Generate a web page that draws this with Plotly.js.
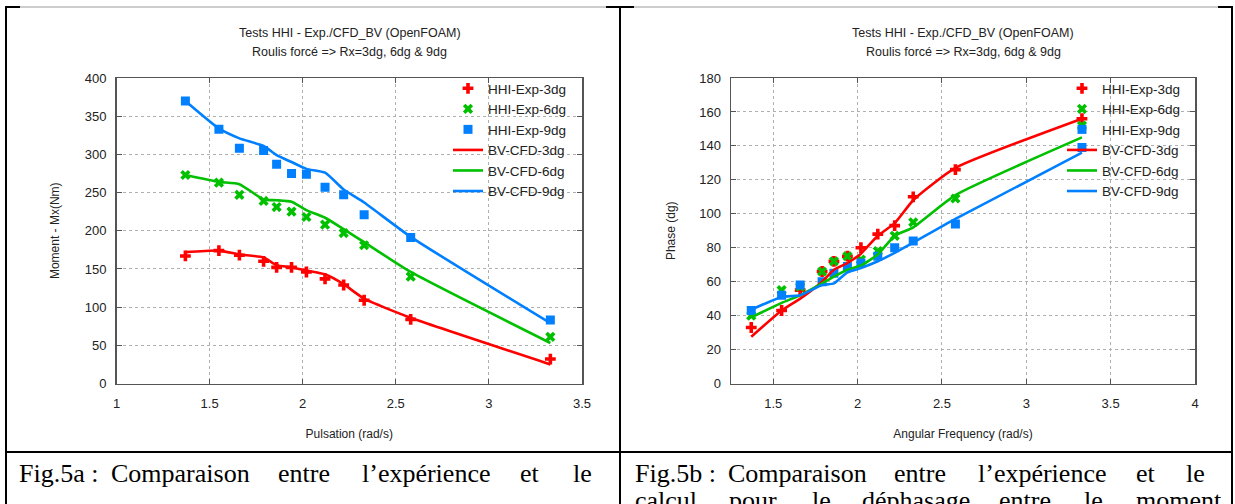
<!DOCTYPE html>
<html>
<head>
<meta charset="utf-8">
<script src="https://cdn.plot.ly/plotly-3.0.1.min.js"></script>
<style>html,body{margin:0;padding:0;background:#fff;}#chart{width:1235px;height:504px;}</style>
</head>
<body>
<div id="chart"></div>
<script>
// ---- data ----
const omega = [1.37, 1.55, 1.66, 1.79, 1.86, 1.94, 2.02, 2.12, 2.22, 2.33, 2.58, 3.33];

// Fig.5a : moment Mx (Nm)
const momExp3dg = [167, 174, 168, 160, 152, 152, 146, 137, 129, 109, 84, 32];
const momExp6dg = [273, 263, 247, 239, 231, 225, 218, 208, 197, 181, 140, 61];
const momExp9dg = [370, 333, 308, 305, 287, 275, 274, 257, 247, 221, 191, 83];
const momCfd3dg = [172, 174, 169, 165, 155, 152, 148, 143, 130, 111, 86, 25];
const momCfd6dg = [273, 264, 261, 241, 240, 238, 227, 217, 202, 185, 146, 53];
const momCfd9dg = [370, 334, 321, 311, 299, 290, 281, 276, 254, 237, 192, 79];

// Fig.5b : phase (dg)
const phExp3dg = [33, 43, 55, 66, 72, 75, 80, 88, 93, 110, 126, 156];
const phExp6dg = [40, 55, 57, 66, 72, 75, 73, 78, 87, 95, 109, 152];
const phExp9dg = [43, 52, 58, 60, 65, 69, 71, 75, 80, 84, 94, 139];
const phCfd3dg = [27.5, 43, 50, 60, 67, 71, 76.5, 87, 94.5, 108, 127, 156];
const phCfd6dg = [39, 47.5, 52, 59, 63, 67, 69.5, 76, 87, 92, 111, 145];
const phCfd9dg = [43.5, 51, 52, 58, 59, 65.5, 68, 72, 77, 83, 97, 136];

const names = ['HHI-Exp-3dg', 'HHI-Exp-6dg', 'HHI-Exp-9dg', 'BV-CFD-3dg', 'BV-CFD-6dg', 'BV-CFD-9dg'];
const titleLine1 = 'Tests HHI - Exp./CFD_BV (OpenFOAM)';
const titleLine2 = 'Roulis forcé => Rx=3dg, 6dg & 9dg';
const captionA = ['Fig.5a :', 'Comparaison', 'entre', 'l’expérience', 'et', 'le'];
const captionB1 = ['Fig.5b :', 'Comparaison', 'entre', 'l’expérience', 'et', 'le'];
const captionB2 = ['calcul', 'pour', 'le', 'déphasage', 'entre', 'le', 'moment'];

// ---- styling ----
const W = 1235, H = 504;
const RED = '#ff0000', GREEN = '#00c000', BLUE = '#0080ff';
const FONT = 'Liberation Sans, Arial, sans-serif';
const SERIF = 'Liberation Serif, Times New Roman, serif';
const CAP_SIZE = 26;
const px = v => v / W;          // px -> paper x
const py = v => 1 - v / H;      // px -> paper y

function expTrace(x, y, name, color, symbol, ax, lg) {
  return {x: x, y: y, name: name, type: 'scatter', mode: 'markers',
    marker: {color: color, symbol: symbol, size: 9, line: {width: 0}},
    xaxis: ax[0], yaxis: ax[1], legend: lg};
}
function cfdTrace(x, y, name, color, ax, lg) {
  return {x: x, y: y, name: name, type: 'scatter', mode: 'lines',
    line: {color: color, width: 2.6, shape: 'spline', smoothing: 0.5},
    xaxis: ax[0], yaxis: ax[1], legend: lg};
}

const A = ['x', 'y'], B = ['x2', 'y2'];
const data = [
  expTrace(omega, momExp3dg, names[0], RED, 'cross', A, 'legend'),
  expTrace(omega, momExp6dg, names[1], GREEN, 'x', A, 'legend'),
  expTrace(omega, momExp9dg, names[2], BLUE, 'square', A, 'legend'),
  cfdTrace(omega, momCfd3dg, names[3], RED, A, 'legend'),
  cfdTrace(omega, momCfd6dg, names[4], GREEN, A, 'legend'),
  cfdTrace(omega, momCfd9dg, names[5], BLUE, A, 'legend'),
  expTrace(omega, phExp3dg, names[0], RED, 'cross', B, 'legend2'),
  expTrace(omega, phExp6dg, names[1], GREEN, 'x', B, 'legend2'),
  expTrace(omega, phExp9dg, names[2], BLUE, 'square', B, 'legend2'),
  cfdTrace(omega, phCfd3dg, names[3], RED, B, 'legend2'),
  cfdTrace(omega, phCfd6dg, names[4], GREEN, B, 'legend2'),
  cfdTrace(omega, phCfd9dg, names[5], BLUE, B, 'legend2')
];

const axisBase = {
  showline: true, linecolor: '#555', linewidth: 1.5, mirror: 'ticks',
  ticks: 'inside', ticklen: 5, tickcolor: '#555', tickwidth: 1,
  showgrid: true, gridcolor: '#b0b0b0', griddash: 'dot', gridwidth: 1,
  zeroline: false, tickfont: {family: FONT, size: 13, color: '#222'},
  automargin: false
};
const xTick = {ticklabelstandoff: 7};
const yTick = {ticklabelstandoff: 6};
const titleFont = {family: FONT, size: 12, color: '#222'};
const yDom = [py(383.5), py(78)];

const layout = {
  width: W, height: H,
  margin: {l: 0, r: 0, t: 0, b: 0},
  paper_bgcolor: '#fff', plot_bgcolor: '#fff',
  font: {family: FONT, color: '#222'},
  showlegend: true,
  xaxis: Object.assign({}, axisBase, xTick, {domain: [px(116.5), px(582)], range: [1, 3.5], dtick: 0.5, tick0: 1,
    anchor: 'y', title: {text: 'Pulsation (rad/s)', font: titleFont, standoff: 20}}),
  yaxis: Object.assign({}, axisBase, yTick, {domain: yDom, range: [0, 400], dtick: 50, tick0: 0,
    anchor: 'x', title: {text: 'Moment - Mx(Nm)', font: titleFont, standoff: 22}}),
  xaxis2: Object.assign({}, axisBase, xTick, {domain: [px(731), px(1195)], range: [1.25, 4], dtick: 0.5, tick0: 1.5,
    anchor: 'y2', title: {text: 'Angular Frequency (rad/s)', font: titleFont, standoff: 20}}),
  yaxis2: Object.assign({}, axisBase, yTick, {domain: yDom, range: [0, 180], dtick: 20, tick0: 0,
    anchor: 'x2', title: {text: 'Phase (dg)', font: titleFont, standoff: 21}}),
  legend: {x: px(572), xanchor: 'right', y: py(73), yanchor: 'top', bgcolor: 'rgba(0,0,0,0)',
    font: {family: FONT, size: 13.5, color: '#222'}, tracegroupgap: 0, itemwidth: 30},
  legend2: {x: px(1186), xanchor: 'right', y: py(73), yanchor: 'top', bgcolor: 'rgba(0,0,0,0)',
    font: {family: FONT, size: 13.5, color: '#222'}, tracegroupgap: 0, itemwidth: 30},
  annotations: [],
  shapes: []
};

// subplot titles
[349.5, 963].forEach(function (c) {
  layout.annotations.push({text: titleLine1, x: px(c), y: py(33), xref: 'paper', yref: 'paper',
    xanchor: 'center', yanchor: 'middle', showarrow: false, font: {family: FONT, size: 12.5, color: '#222'}});
  layout.annotations.push({text: titleLine2, x: px(c), y: py(52), xref: 'paper', yref: 'paper',
    xanchor: 'center', yanchor: 'middle', showarrow: false, font: {family: FONT, size: 12.5, color: '#222'}});
});

// captions: word start positions (justified document text)
function wordsAt(words, xs, yc) {
  words.forEach(function (w, i) {
    layout.annotations.push({text: w, x: px(xs[i] - 1), y: py(yc), xref: 'paper', yref: 'paper',
      xanchor: 'left', yanchor: 'middle', showarrow: false,
      font: {family: SERIF, size: CAP_SIZE, color: '#000'}});
  });
}
wordsAt(captionA, [18, 110, 277, 361, 519, 572], 473);
wordsAt(captionB1, [634, 727, 893, 977, 1135, 1185], 473);
wordsAt(captionB2, [634, 728, 811, 861, 998, 1083, 1135], 500);

// table borders
function ln(x0, y0, x1, y1, color, w) {
  layout.shapes.push({type: 'line', xref: 'paper', yref: 'paper', x0: px(x0), y0: py(y0), x1: px(x1), y1: py(y1),
    line: {color: color, width: w}});
}
ln(6, 7, 1232, 7, '#9a9a9a', 1);
ln(5, 7, 20, 7, '#000', 2);
ln(606, 7, 634, 7, '#000', 2);
ln(1218, 7, 1233, 7, '#000', 2);
ln(6, 6, 6, 504, '#000', 2);
ln(620, 6, 620, 504, '#000', 2);
ln(1232, 6, 1232, 504, '#000', 2);
ln(5, 452, 1233, 452, '#000', 2);

Plotly.newPlot('chart', data, layout, {displayModeBar: false, staticPlot: true});
</script>
</body>
</html>
